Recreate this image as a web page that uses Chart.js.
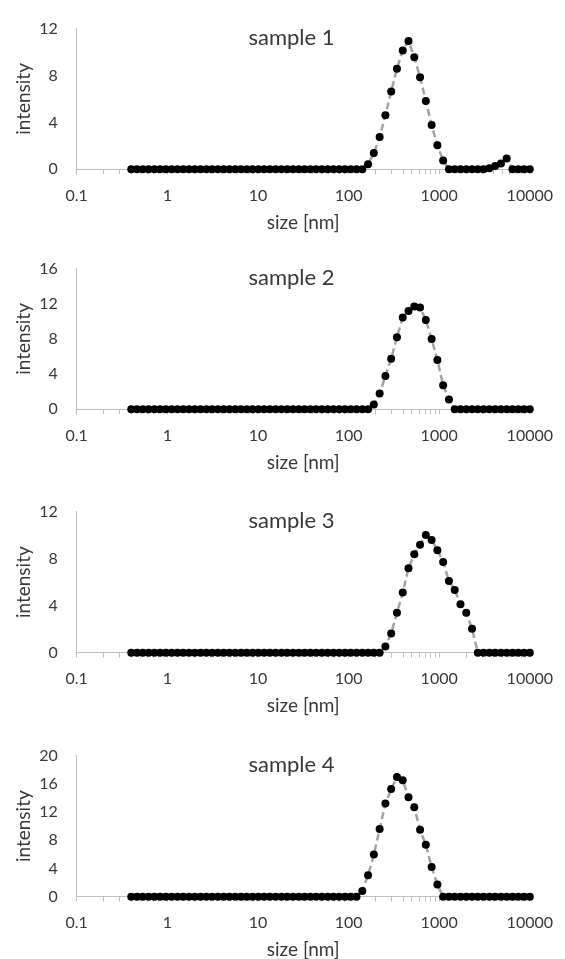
<!DOCTYPE html>
<html><head><meta charset="utf-8">
<script src="https://cdn.jsdelivr.net/npm/chart.js@4.4.1/dist/chart.umd.min.js"></script>
<style>
html,body{margin:0;padding:0;background:#fff;overflow:hidden;width:565px;height:959px;}
.panel{position:absolute;left:0;width:565px;}
canvas{display:block;}
</style></head><body>
<div class="panel" style="top:0px"><canvas id="c0" width="565" height="240"></canvas></div>
<div class="panel" style="top:240px"><canvas id="c1" width="565" height="240"></canvas></div>
<div class="panel" style="top:483px"><canvas id="c2" width="565" height="240"></canvas></div>
<div class="panel" style="top:727px"><canvas id="c3" width="565" height="240"></canvas></div>
<script>
// particle size bins [nm]
const sizes = [0.4, 0.4632, 0.5365, 0.6213, 0.7195, 0.8332, 0.9649, 1.117, 1.294, 1.499,
  1.736, 2.01, 2.328, 2.696, 3.122, 3.615, 4.187, 4.849, 5.615, 6.503,
  7.531, 8.721, 10.1, 11.7, 13.54, 15.69, 18.17, 21.04, 24.36, 28.21,
  32.67, 37.84, 43.82, 50.75, 58.77, 68.06, 78.82, 91.28, 105.7, 122.4,
  141.8, 164.2, 190.1, 220.2, 255, 295.3, 342, 396.1, 458.7, 531.2,
  615.1, 712.4, 825, 955.4, 1106, 1281, 1484, 1718, 1990, 2305,
  2669, 3091, 3580, 4145, 4801, 5560, 6439, 7456, 8635, 10000];

const sample1 = [0,0,0,0,0,0,0,0,0,0, 0,0,0,0,0,0,0,0,0,0, 0,0,0,0,0,0,0,0,0,0, 0,0,0,0,0,0,0,0,0,0,
  0, 0.43, 1.38, 2.75, 4.61, 6.63, 8.58, 10.14, 10.95, 9.55,
  7.85, 5.83, 3.77, 2.05, 0.75, 0, 0, 0, 0, 0,
  0, 0, 0.08, 0.28, 0.5, 0.92, 0, 0, 0, 0];
const sample2 = [0,0,0,0,0,0,0,0,0,0, 0,0,0,0,0,0,0,0,0,0, 0,0,0,0,0,0,0,0,0,0, 0,0,0,0,0,0,0,0,0,0,
  0, 0, 0.54, 1.8, 3.78, 5.76, 8.2, 10.44, 11.17, 11.7,
  11.57, 10.16, 8.0, 5.62, 2.73, 1.11, 0, 0, 0, 0,
  0, 0, 0, 0, 0, 0, 0, 0, 0, 0];
const sample3 = [0,0,0,0,0,0,0,0,0,0, 0,0,0,0,0,0,0,0,0,0, 0,0,0,0,0,0,0,0,0,0, 0,0,0,0,0,0,0,0,0,0,
  0, 0, 0, 0, 0.53, 1.64, 3.39, 5.12, 7.18, 8.37,
  9.18, 10.0, 9.59, 8.72, 7.72, 6.1, 5.34, 4.12, 3.39, 2.04,
  0, 0, 0, 0, 0, 0, 0, 0, 0, 0];
const sample4 = [0,0,0,0,0,0,0,0,0,0, 0,0,0,0,0,0,0,0,0,0, 0,0,0,0,0,0,0,0,0,0, 0,0,0,0,0,0,0,0,0,0,
  0.81, 3.04, 5.97, 9.59, 13.2, 15.25, 16.96, 16.5, 14.1, 12.67,
  9.5, 7.38, 4.2, 1.72, 0, 0, 0, 0, 0, 0,
  0, 0, 0, 0, 0, 0, 0, 0, 0, 0];

const titles = ['sample 1', 'sample 2', 'sample 3', 'sample 4'];
const yMax = [12, 16, 12, 20];
const yStep = 4;
const xMin = 0.1, xMax = 10000;
const xTickValues = [0.1,0.2,0.3,0.4,0.5,0.6,0.7,0.8,0.9,
  1,2,3,4,5,6,7,8,9, 10,20,30,40,50,60,70,80,90,
  100,200,300,400,500,600,700,800,900, 1000,2000,3000,4000,5000,6000,7000,8000,9000, 10000];
const xLabelValues = [0.1, 1, 10, 100, 1000, 10000];
const xTitle = 'size [nm]';
const yTitle = 'intensity';

// layout (pixels inside each canvas)
const plotTop = [21.5, 21.5, 21, 22.3];
const plotBottom = [169.3, 169.3, 169.7, 169.7];
const plotLeft = 76.7, plotRight = 532.7;

const textColor = '#383838';
const axisColor = '#bfbfbf';

const titlePlugin = {
  id: 'panelTitle',
  afterDraw(chart, args, opts) {
    const {ctx, chartArea} = chart;
    ctx.save();
    ctx.font = '22px Lato';
    ctx.fillStyle = textColor;
    ctx.textAlign = 'center';
    ctx.textBaseline = 'alphabetic';
    ctx.fillText(opts.text, 291.5, chartArea.top + 16);
    ctx.restore();
  }
};

const series = [sample1, sample2, sample3, sample4];
series.forEach((vals, i) => {
  const cv = document.getElementById('c' + i);
  const H = cv.height;
  new Chart(cv, {
    type: 'line',
    data: {
      datasets: [{
        label: titles[i],
        data: sizes.map((s, j) => ({x: s, y: vals[j]})),
        borderColor: '#a3a3a3',
        borderWidth: 2.5,
        borderDash: [7, 4],
        tension: 0,
        pointRadius: 4,
        pointHoverRadius: 4,
        pointBackgroundColor: '#000',
        pointBorderColor: '#000',
        pointBorderWidth: 0,
        clip: false
      }]
    },
    options: {
      responsive: false,
      animation: false,
      events: [],
      layout: {padding: {top: plotTop[i], right: 565 - plotRight, left: 0, bottom: 0}},
      plugins: {
        legend: {display: false},
        tooltip: {enabled: false},
        panelTitle: {text: titles[i]}
      },
      scales: {
        x: {
          type: 'logarithmic',
          min: xMin, max: xMax,
          afterBuildTicks: s => { s.ticks = xTickValues.map(v => ({value: v})); },
          afterFit: s => { s.height = H - plotBottom[i]; },
          ticks: {
            autoSkip: false, maxRotation: 0, minRotation: 0, padding: 12,
            color: textColor, font: {family: 'Lato', size: 16},
            callback: v => xLabelValues.some(l => Math.abs(l - v) < 1e-9 * Math.max(1, v)) ? String(v) : ''
          },
          grid: {display: true, drawOnChartArea: false, drawTicks: true, tickLength: 5, color: axisColor, tickColor: axisColor},
          border: {display: true, color: axisColor, width: 1},
          title: {display: true, text: xTitle, color: textColor, font: {family: 'Lato', size: 19}, padding: {top: 0, bottom: 6}}
        },
        y: {
          min: 0, max: yMax[i],
          afterFit: s => { s.width = plotLeft; },
          ticks: {stepSize: yStep, padding: 19, color: textColor, font: {family: 'Lato', size: 16}},
          grid: {display: false, drawTicks: false},
          border: {display: true, color: axisColor, width: 1},
          title: {display: true, text: yTitle, color: textColor, font: {family: 'Lato', size: 19}, padding: {top: 12, bottom: 0}}
        }
      }
    },
    plugins: [titlePlugin]
  });
});
</script>
</body></html>
